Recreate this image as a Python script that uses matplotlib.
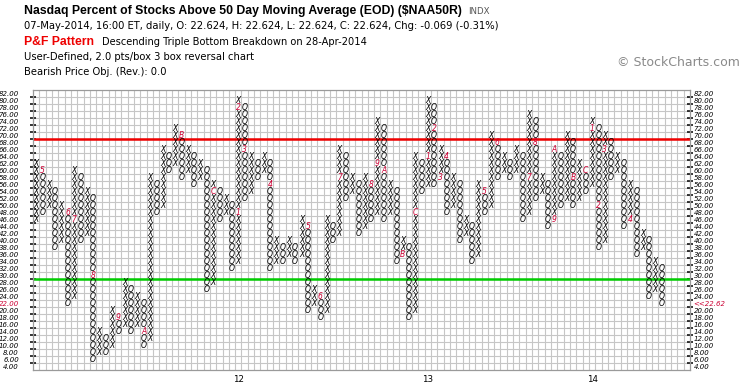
import matplotlib
matplotlib.use("Agg")
import matplotlib.pyplot as plt
import matplotlib.transforms as mtransforms

col_types = ["X", "O"] * 50           # columns alternate, first one is X
col_lows = [46, 48, 50, 38, 40, 22, 24, 40, 42, 6,
            8, 8, 10, 14, 16, 14, 16, 10, 12, 48,
            50, 60, 62, 58, 60, 56, 58, 26, 28, 46,
            48, 32, 34, 52, 54, 58, 60, 32, 34, 34,
            36, 34, 36, 20, 22, 18, 20, 40, 42, 52,
            54, 42, 44, 46, 48, 46, 48, 34, 36, 18,
            20, 54, 56, 56, 58, 48, 50, 40, 42, 34,
            36, 48, 50, 58, 60, 58, 60, 46, 48, 52,
            54, 44, 46, 50, 52, 50, 52, 54, 56, 38,
            40, 58, 60, 44, 46, 36, 38, 24, 26, 22]
col_highs = [62, 60, 56, 54, 50, 48, 60, 58, 54, 52,
             14, 12, 20, 18, 28, 26, 24, 22, 58, 56,
             66, 64, 72, 70, 66, 64, 62, 60, 56, 54,
             52, 50, 80, 78, 64, 62, 64, 62, 40, 38,
             40, 38, 46, 44, 26, 24, 46, 44, 66, 64,
             58, 56, 58, 56, 74, 72, 56, 54, 40, 38,
             64, 62, 80, 78, 66, 64, 58, 56, 46, 44,
             56, 54, 70, 68, 64, 62, 66, 64, 76, 74,
             58, 56, 66, 64, 70, 68, 62, 60, 74, 72,
             70, 68, 64, 62, 56, 54, 42, 40, 34, 32]
marker_cols = [1, 5, 6, 9, 13, 17, 23, 28, 32, 32, 33, 37, 43, 45, 48, 53, 54, 55,
               58, 60, 62, 63, 64, 65, 71, 73, 78, 79, 82, 82, 85, 87, 88, 89, 90, 94]
marker_vals = [60, 48, 46, 30, 18, 14, 70, 54, 48, 78, 66, 56, 44, 24, 58, 56, 62, 60,
               36, 48, 64, 72, 58, 64, 54, 68, 58, 68, 46, 66, 58, 60, 72, 50, 66, 46]
marker_chars = ["5", "6", "7", "8", "9", "A", "B", "C", "1", "2", "3", "4", "5", "6",
                "7", "8", "9", "A", "B", "C", "1", "2", "3", "4", "5", "6", "7", "8",
                "9", "A", "B", "C", "1", "2", "3", "4"]
year_cols = [32, 62, 88]
year_labels = ["12", "13", "14"]
price_levels = list(range(4, 84, 2))
last_price = 22.62
box_size = 2
upper_line = 70
lower_line = 30
n_grid_cols = 104

# ---------------- figure ----------------
W, H = 745, 391
fig = plt.figure(figsize=(W / 100, H / 100), dpi=100)
fig.patch.set_facecolor("white")
L, R, T, B = 33, 690, 90, 370
ax = fig.add_axes([L / W, 1 - B / H, (R - L) / W, (B - T) / H])
ax.set_xlim(0, n_grid_cols)
ax.set_ylim(price_levels[0], price_levels[-1] + box_size)

grid_c = "#c6c6c6"
ax.vlines(range(1, n_grid_cols), price_levels[0], price_levels[-1] + box_size,
          colors=grid_c, lw=0.8, zorder=0)
ax.hlines(price_levels[1:], 0, n_grid_cols, colors=grid_c, lw=0.8, zorder=0)
for s in ax.spines.values():
    s.set_color("#9a9a9a")
    s.set_linewidth(0.9)

ax.axhline(upper_line, color="#ee0000", lw=1.8, zorder=2)
ax.axhline(lower_line, color="#00cc00", lw=1.8, zorder=2)

# y ticks on the box boundaries
ax.set_yticks(price_levels[1:])
ax.set_yticklabels([])
ax.tick_params(axis="y", which="both", left=True, right=True, direction="inout",
               length=5, width=1.1, color="black")
ax.set_xticks([])

# X / O boxes and month markers as text
glyph_pt = 5.5
glyph_tr = mtransforms.offset_copy(ax.transData, fig=fig, x=0, y=-2.0, units="points")
markers = {(c, v): ch for c, v, ch in zip(marker_cols, marker_vals, marker_chars)}
gfont = dict(fontsize=glyph_pt, style="italic", family="DejaVu Sans", ha="center",
             va="baseline", transform=glyph_tr, zorder=3)
for i, (t, lo, hi) in enumerate(zip(col_types, col_lows, col_highs)):
    for v in range(lo, hi + 1, box_size):
        if (i, v) in markers:
            ax.text(i + 0.5, v + box_size / 2, markers[(i, v)], color="#cc0033", **gfont)
        else:
            ax.text(i + 0.5, v + box_size / 2, t, color="black", **gfont)

# price labels both sides
lab_off = mtransforms.offset_copy(ax.transData, fig=fig, x=0, y=-1.8, units="points")
lab_tr = mtransforms.blended_transform_factory(fig.transFigure, lab_off)
lfont = dict(fontsize=5.0, style="italic", family="DejaVu Sans", va="baseline")
last_box = int(last_price // box_size * box_size)
for v in price_levels:
    if v == last_box:
        ax.text(693.5 / W, v + box_size / 2, "<<%.2f" % last_price, color="#cc0033",
                ha="left", transform=lab_tr, **lfont)
        ax.text(19 / W, v + box_size / 2, "%.2f" % v, color="#cc0033",
                ha="right", transform=lab_tr, **lfont)
    else:
        ax.text(693.5 / W, v + box_size / 2, "%.2f" % v, color="black",
                ha="left", transform=lab_tr, **lfont)
        ax.text(19 / W, v + box_size / 2, "%.2f" % v, color="black",
                ha="right", transform=lab_tr, **lfont)

# year labels
year_tr = mtransforms.blended_transform_factory(ax.transData, fig.transFigure)
for c, lab in zip(year_cols, year_labels):
    ax.text(c + 0.5, 1 - 380 / H, lab, ha="center", va="center", fontsize=6.3,
            family="DejaVu Sans", transform=year_tr)


# header
def ftext(x, y, s, **kw):
    fig.text(x / W, 1 - y / H, s, va="center", ha=kw.pop("ha", "left"), **kw)


ftext(24, 11, "Nasdaq Percent of Stocks Above 50 Day Moving Average (EOD) ($NAA50R)",
      fontsize=8.8, weight="bold", family=["Liberation Sans", "DejaVu Sans"])
ftext(468, 11.5, "INDX", fontsize=6.2, color="#555555", family="DejaVu Sans")
ftext(24, 26, "07-May-2014, 16:00 ET, daily, O: 22.624, H: 22.624, L: 22.624, "
              "C: 22.624, Chg: -0.069 (-0.31%)", fontsize=7.2, family="DejaVu Sans")
ftext(24, 42, "P&F Pattern", fontsize=8.8, weight="bold", color="#ee0000",
      family=["Liberation Sans", "DejaVu Sans"])
ftext(102, 42, "Descending Triple Bottom Breakdown on 28-Apr-2014", fontsize=7.1,
      family="DejaVu Sans")
ftext(24, 57, "User-Defined, 2.0 pts/box 3 box reversal chart", fontsize=7.2,
      family="DejaVu Sans")
ftext(24, 72, "Bearish Price Obj. (Rev.): 0.0", fontsize=7.2, family="DejaVu Sans")
ftext(740, 63, "\u00a9 StockCharts.com", fontsize=9, color="#8a8a8a",
      family="DejaVu Sans", ha="right")

fig.savefig("out.png", dpi=100, facecolor="white")
